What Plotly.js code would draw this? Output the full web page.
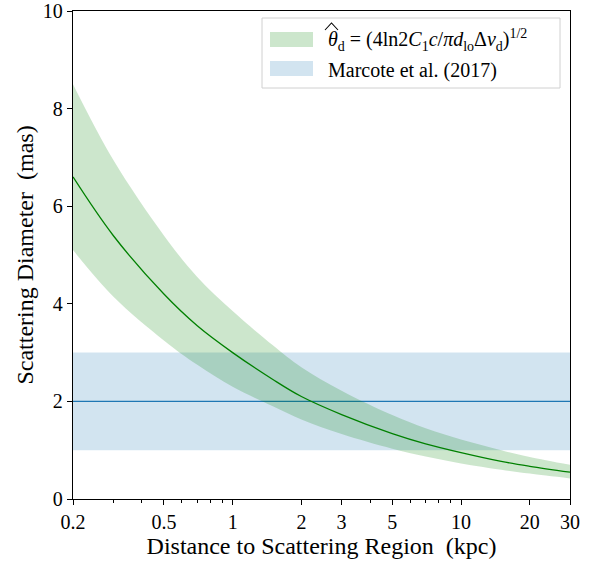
<!DOCTYPE html>
<html>
<head>
<meta charset="utf-8">
<script src="https://cdn.plot.ly/plotly-3.0.1.min.js"></script>
<style>html,body{margin:0;padding:0;background:#fff;}#chart{width:593px;height:562px;}</style>
</head>
<body>
<div id="chart"></div>
<script>
const distance = [0.2, 0.3, 0.5, 0.7, 1, 1.5, 2, 3, 5, 7, 10, 15, 20, 30];
// Scattering diameter (mas): central curve and band edges
const thetaCenter = [6.6, 5.4, 4.2, 3.55, 3.0, 2.45, 2.1, 1.73, 1.34, 1.13, 0.95, 0.77, 0.67, 0.55];
const thetaUpper  = [8.5, 6.95, 5.4, 4.55, 3.85, 3.15, 2.7, 2.22, 1.72, 1.45, 1.22, 1.0, 0.86, 0.70];
const thetaLower  = [5.1, 4.15, 3.25, 2.75, 2.3, 1.9, 1.63, 1.33, 1.03, 0.87, 0.73, 0.6, 0.52, 0.42];
// Marcote et al. (2017) band
const marcoteX = [0.2, 30];
const marcoteCenter = 2.0;
const marcoteLow = 1.0;
const marcoteHigh = 3.0;
// Axis ticks
const xTickVals = [0.2, 0.5, 1, 2, 3, 5, 10, 20, 30];
const xTickText = ['0.2', '0.5', '1', '2', '3', '5', '10', '20', '30'];
const xMinorVals = [0.3, 0.4, 0.6, 0.7, 0.8, 0.9, 4, 6, 7, 8, 9];
const yTickVals = [0, 2, 4, 6, 8, 10];
// Legend labels
const legendLabels = [
  '<i>θ</i><sub>d</sub> = (4ln2<i>C</i><sub>1</sub><i>c</i>/<i>πd</i><sub>lo</sub>Δ<i>ν</i><sub>d</sub>)<sup>1/2</sup>',
  'Marcote et al. (2017)'
];

const greenFill = 'rgba(0,128,0,0.2)';
const blueFill = 'rgba(31,119,180,0.2)';

const traces = [
  {x: marcoteX, y: marcoteX.map(() => marcoteLow), mode: 'lines', line: {width: 0}, showlegend: false, hoverinfo: 'skip'},
  {x: marcoteX, y: marcoteX.map(() => marcoteHigh), mode: 'lines', line: {width: 0}, fill: 'tonexty', fillcolor: blueFill,
   name: legendLabels[1], showlegend: false},
  {x: marcoteX, y: marcoteX.map(() => marcoteCenter), mode: 'lines', line: {color: '#1f77b4', width: 1.3}, showlegend: false},
  {x: distance, y: thetaLower, mode: 'lines', line: {width: 0, shape: 'spline'}, showlegend: false, hoverinfo: 'skip'},
  {x: distance, y: thetaUpper, mode: 'lines', line: {width: 0, shape: 'spline'}, fill: 'tonexty', fillcolor: greenFill,
   name: legendLabels[0], showlegend: false},
  {x: distance, y: thetaCenter, mode: 'lines', line: {color: '#008000', width: 1.3, shape: 'spline'}, showlegend: false}
];

const FAM = 'Liberation Serif';
// plot area in pixels: left 73, right 570, top 11, bottom 499
const PL = 73, PW = 497, PB = 499, PH = 488;
const px = v => (v - PL) / PW;
const py = v => (PB - v) / PH;

const shapes = [
  {type: 'rect', xref: 'paper', yref: 'paper', x0: px(262), x1: px(560), y0: py(88), y1: py(18),
   line: {color: '#d0d0d0', width: 1}, fillcolor: 'rgba(255,255,255,0.8)', layer: 'above'},
  {type: 'rect', xref: 'paper', yref: 'paper', x0: px(270), x1: px(313), y0: py(47), y1: py(32),
   line: {width: 0}, fillcolor: greenFill, layer: 'above'},
  {type: 'rect', xref: 'paper', yref: 'paper', x0: px(270), x1: px(313), y0: py(76), y1: py(61),
   line: {width: 0}, fillcolor: blueFill, layer: 'above'},
  // wide hat over theta
  {type: 'path', xref: 'paper', yref: 'paper',
   path: `M ${px(325)},${py(30)} L ${px(331.5)},${py(23)} L ${px(338)},${py(30)}`,
   line: {color: '#000', width: 1.1}, layer: 'above'}
];

const annotations = [
  {xref: 'paper', yref: 'paper', x: px(326), y: py(40), xanchor: 'left', yanchor: 'middle', showarrow: false,
   text: legendLabels[0], font: {family: FAM, size: 20, color: '#000'}},
  {xref: 'paper', yref: 'paper', x: px(326), y: py(70), xanchor: 'left', yanchor: 'middle', showarrow: false,
   text: legendLabels[1], font: {family: FAM, size: 20, color: '#000'}}
];

const layout = {
  width: 593, height: 562,
  margin: {l: 73, r: 23, t: 11, b: 63},
  paper_bgcolor: '#fff', plot_bgcolor: '#fff',
  font: {family: FAM, size: 20, color: '#000'},
  showlegend: false,
  shapes: shapes,
  annotations: annotations,
  xaxis: {
    type: 'log',
    range: [Math.log10(0.2), Math.log10(30)],
    tickmode: 'array', tickvals: xTickVals, ticktext: xTickText,
    ticks: 'outside', ticklen: 5, tickwidth: 1, tickcolor: '#000',
    minor: {tickmode: 'array', tickvals: xMinorVals, ticks: 'outside', ticklen: 3, tickwidth: 1, tickcolor: '#000', showgrid: false},
    showline: true, linecolor: '#000', linewidth: 1.2, mirror: true,
    showgrid: false, zeroline: false, ticklabeloverflow: 'allow',
    tickfont: {family: FAM, size: 20, color: '#000'},
    title: {text: 'Distance to Scattering Region &nbsp;(kpc)', font: {family: FAM, size: 24, color: '#000'}, standoff: 0}
  },
  yaxis: {
    range: [0, 10],
    tickmode: 'array', tickvals: yTickVals,
    ticks: 'outside', ticklen: 5, tickwidth: 1, tickcolor: '#000',
    showline: true, linecolor: '#000', linewidth: 1.2, mirror: true,
    showgrid: false, zeroline: false, ticklabeloverflow: 'allow',
    tickfont: {family: FAM, size: 20, color: '#000'},
    title: {text: 'Scattering Diameter &nbsp;(mas)', font: {family: FAM, size: 24, color: '#000'}, standoff: 2}
  }
};

Plotly.newPlot('chart', traces, layout, {displayModeBar: false, staticPlot: true});
</script>
</body>
</html>
